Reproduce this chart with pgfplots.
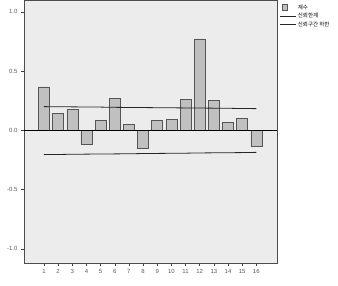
\documentclass[border=0pt]{standalone}
\usepackage{pgfplots}
\pgfplotsset{compat=1.18}
\usepackage{fontspec}
\setmainfont{Liberation Sans}
\newfontfamily\kr{Noto Sans CJK KR}
\definecolor{bg}{RGB}{236,236,236}
\definecolor{barfill}{RGB}{192,192,192}
\definecolor{barline}{RGB}{85,85,85}
\definecolor{ticktext}{RGB}{90,90,90}
\begin{document}
\begin{tikzpicture}
\useasboundingbox (-24pt,-22pt) rectangle (314pt,263pt);
\begin{axis}[
  at={(0pt,0pt)}, anchor=south west,
  scale only axis, width=253pt, height=263pt,
  xmin=-0.41, xmax=17.46, ymin=-1.12, ymax=1.10,
  axis background/.style={fill=bg},
  axis line style={draw=gray!60!black, line width=0.7pt},
  xtick={1,...,16}, ytick={-1,-0.5,0,0.5,1},
  tick align=outside, tick pos=left,
  major tick length=3pt,
  tick style={draw=gray!50!black, line width=0.5pt},
  ticklabel style={font=\fontsize{6}{7}\selectfont, text=ticktext},
  /pgf/number format/assume math mode=true,
  yticklabel style={/pgf/number format/.cd, fixed, fixed zerofill, precision=1},
  legend style={at={(1.005,0.995)}, anchor=north west, draw=none, fill=none,
    font=\kr\fontsize{5.5}{6.5}\selectfont, row sep=-1.5pt, inner sep=1pt,
    cells={anchor=west}},
  legend cell align=left,
  clip=true,
]
\addplot[ybar, bar width=11pt, fill=barfill, draw=barline, line width=0.5pt,
  legend image code/.code={\draw[fill=barfill, draw=barline, line width=0.5pt] (0.08cm,-0.09cm) rectangle (0.27cm,0.1cm);}]
coordinates {(1,0.366) (2,0.141) (3,0.174) (4,-0.115) (5,0.082) (6,0.267) (7,0.051) (8,-0.155)
 (9,0.087) (10,0.093) (11,0.264) (12,0.771) (13,0.253) (14,0.070) (15,0.101) (16,-0.138)};
\addlegendentry{계수}
\addplot[black!85, line width=0.8pt, mark=none,
  legend image code/.code={\draw[black!85, line width=0.8pt] (0cm,0cm) -- (0.55cm,0cm);}]
coordinates {(1,0.200) (2,0.199) (3,0.198) (4,0.197) (5,0.196) (6,0.194) (7,0.193) (8,0.192)
 (9,0.191) (10,0.190) (11,0.189) (12,0.188) (13,0.187) (14,0.186) (15,0.184) (16,0.183)};
\addlegendentry{신뢰한계}
\addplot[black!85, line width=0.8pt, mark=none,
  legend image code/.code={\draw[black!85, line width=0.8pt] (0cm,0cm) -- (0.55cm,0cm);}]
coordinates {(1,-0.205) (2,-0.204) (3,-0.202) (4,-0.201) (5,-0.200) (6,-0.199) (7,-0.198) (8,-0.196)
 (9,-0.195) (10,-0.194) (11,-0.193) (12,-0.191) (13,-0.190) (14,-0.189) (15,-0.188) (16,-0.186)};
\addlegendentry{신뢰구간 하한}
\addplot[black, line width=0.6pt, mark=none, forget plot]
coordinates {(-0.41,0) (17.46,0)};
\end{axis}
\end{tikzpicture}
\end{document}
